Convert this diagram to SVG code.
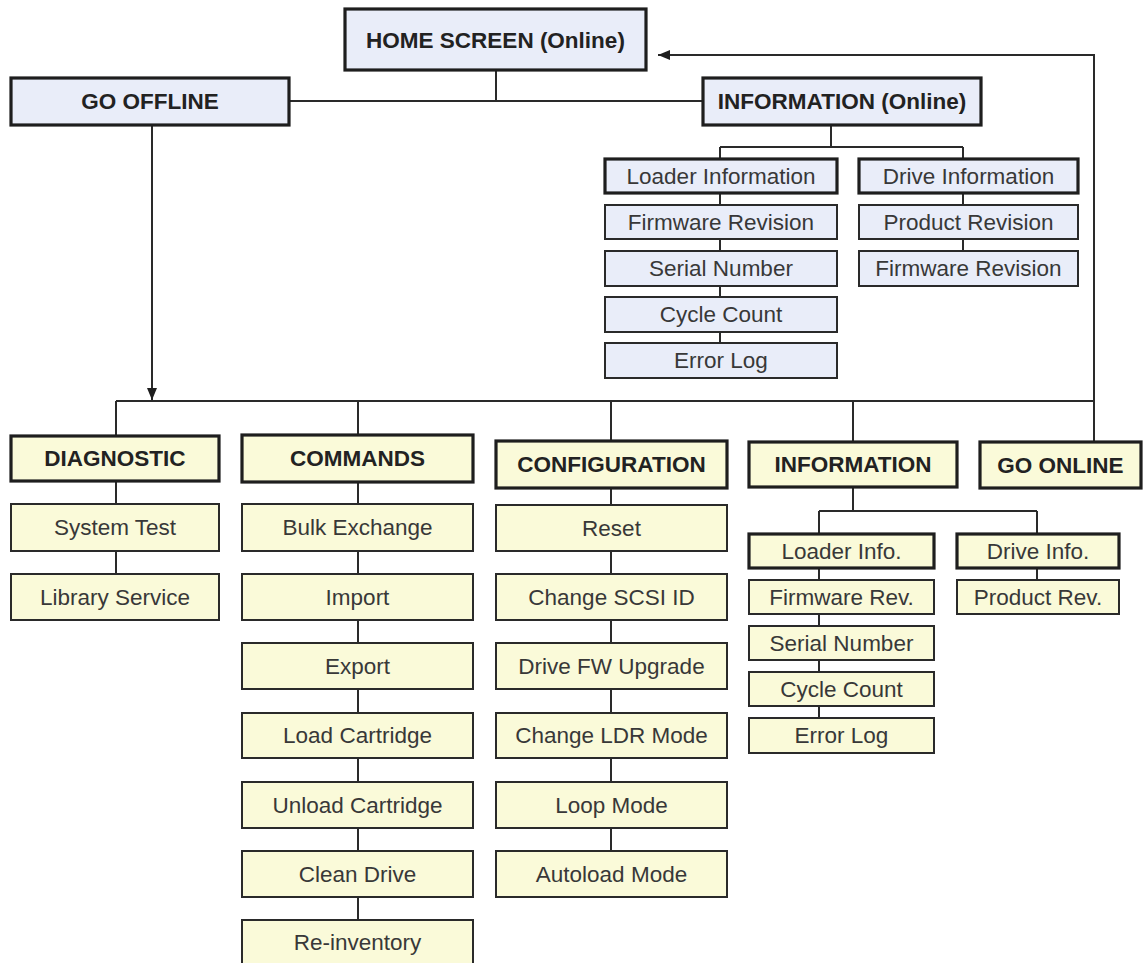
<svg xmlns="http://www.w3.org/2000/svg" width="1146" height="963" viewBox="0 0 1146 963">
<style>
  .b{fill:#e9edf9;stroke:#2a2a2a;stroke-width:2}
  .y{fill:#fafad9;stroke:#2a2a2a;stroke-width:2}
  .k{stroke-width:3.2;stroke:#1e1e1e}
  .t{font-family:"Liberation Sans",Arial,sans-serif;font-size:22.5px;fill:#383838;text-anchor:middle}
  .h{font-family:"Liberation Sans",Arial,sans-serif;font-size:22.5px;font-weight:bold;fill:#222;text-anchor:middle}
  .c{fill:none;stroke:#2a2a2a;stroke-width:2}
</style>
<defs>
  <marker id="ah" viewBox="0 0 12 10" refX="12" refY="5" markerWidth="12" markerHeight="10" markerUnits="userSpaceOnUse" orient="auto">
    <path d="M0,0 L12,5 L0,10 z" fill="#1e1e1e"/>
  </marker>
</defs>
<rect width="1146" height="963" fill="#ffffff"/>
<g id="connectors">
  <path class="c" d="M496,70 V101"/>
  <path class="c" d="M289,101 H703"/>
  <path class="c" d="M831,125 V147 M720,147 H963 M720,147 V159 M963,147 V159"/>
  <path class="c" d="M720,193 V343"/>
  <path class="c" d="M963,193 V251"/>
  <path class="c" d="M1094,401 V55 H658" marker-end="url(#ah)"/>
  <path class="c" d="M152,125 V400" marker-end="url(#ah)"/>
  <path class="c" d="M116,401 H1094"/>
  <path class="c" d="M116,401 V436 M358,401 V435 M611,401 V441 M853,401 V442 M1094,401 V442"/>
  <path class="c" d="M116,481 V574"/>
  <path class="c" d="M358,482 V920"/>
  <path class="c" d="M611,488 V851"/>
  <path class="c" d="M853,487 V511 M819,511 H1037 M819,511 V534 M1037,511 V534"/>
  <path class="c" d="M819,568 V718"/>
  <path class="c" d="M1037,568 V580"/>
</g>
<g id="home"><rect class="b k" x="345" y="9" width="301" height="61"/><text class="h" x="495.5" y="47.5">HOME SCREEN (Online)</text></g>
<g id="gooffline"><rect class="b k" x="11" y="78" width="278" height="47"/><text class="h" x="150" y="109">GO OFFLINE</text></g>
<g id="infoonline"><rect class="b k" x="703" y="78" width="278" height="47"/><text class="h" x="842" y="109">INFORMATION (Online)</text></g>

<g id="loaderinformation"><rect class="b k" x="605" y="159" width="232" height="34"/><text class="t" x="721" y="184">Loader Information</text></g>
<g id="firmwarerevision1"><rect class="b" x="605" y="205" width="232" height="34"/><text class="t" x="721" y="230">Firmware Revision</text></g>
<g id="serialnumber1"><rect class="b" x="605" y="251" width="232" height="35"/><text class="t" x="721" y="276">Serial Number</text></g>
<g id="cyclecount1"><rect class="b" x="605" y="297" width="232" height="35"/><text class="t" x="721" y="322">Cycle Count</text></g>
<g id="errorlog1"><rect class="b" x="605" y="343" width="232" height="35"/><text class="t" x="721" y="368">Error Log</text></g>

<g id="driveinformation"><rect class="b k" x="859" y="159" width="219" height="34"/><text class="t" x="968.5" y="184">Drive Information</text></g>
<g id="productrevision"><rect class="b" x="859" y="205" width="219" height="34"/><text class="t" x="968.5" y="230">Product Revision</text></g>
<g id="firmwarerevision2"><rect class="b" x="859" y="251" width="219" height="35"/><text class="t" x="968.5" y="276">Firmware Revision</text></g>

<g id="diagnostic"><rect class="y k" x="11" y="436" width="208" height="45"/><text class="h" x="115" y="466">DIAGNOSTIC</text></g>
<g id="systemtest"><rect class="y" x="11" y="504" width="208" height="47"/><text class="t" x="115" y="535">System Test</text></g>
<g id="libraryservice"><rect class="y" x="11" y="574" width="208" height="46"/><text class="t" x="115" y="605">Library Service</text></g>

<g id="commands"><rect class="y k" x="242" y="435" width="231" height="47"/><text class="h" x="357.5" y="466">COMMANDS</text></g>
<g id="bulkexchange"><rect class="y" x="242" y="504" width="231" height="47"/><text class="t" x="357.5" y="535">Bulk Exchange</text></g>
<g id="import"><rect class="y" x="242" y="574" width="231" height="46"/><text class="t" x="357.5" y="605">Import</text></g>
<g id="export"><rect class="y" x="242" y="643" width="231" height="46"/><text class="t" x="357.5" y="674">Export</text></g>
<g id="loadcartridge"><rect class="y" x="242" y="713" width="231" height="45"/><text class="t" x="357.5" y="743">Load Cartridge</text></g>
<g id="unloadcartridge"><rect class="y" x="242" y="782" width="231" height="46"/><text class="t" x="357.5" y="813">Unload Cartridge</text></g>
<g id="cleandrive"><rect class="y" x="242" y="851" width="231" height="46"/><text class="t" x="357.5" y="882">Clean Drive</text></g>
<g id="reinventory"><rect class="y" x="242" y="920" width="231" height="48"/><text class="t" x="357.5" y="950">Re-inventory</text></g>

<g id="configuration"><rect class="y k" x="496" y="441" width="231" height="47"/><text class="h" x="611.5" y="472">CONFIGURATION</text></g>
<g id="reset"><rect class="y" x="496" y="505" width="231" height="46"/><text class="t" x="611.5" y="536">Reset</text></g>
<g id="changescsiid"><rect class="y" x="496" y="574" width="231" height="46"/><text class="t" x="611.5" y="605">Change SCSI ID</text></g>
<g id="drivefwupgrade"><rect class="y" x="496" y="643" width="231" height="46"/><text class="t" x="611.5" y="674">Drive FW Upgrade</text></g>
<g id="changeldrmode"><rect class="y" x="496" y="713" width="231" height="45"/><text class="t" x="611.5" y="743">Change LDR Mode</text></g>
<g id="loopmode"><rect class="y" x="496" y="782" width="231" height="46"/><text class="t" x="611.5" y="813">Loop Mode</text></g>
<g id="autoloadmode"><rect class="y" x="496" y="851" width="231" height="46"/><text class="t" x="611.5" y="882">Autoload Mode</text></g>

<g id="information"><rect class="y k" x="749" y="442" width="208" height="45"/><text class="h" x="853" y="472">INFORMATION</text></g>
<g id="goonline"><rect class="y k" x="980" y="442" width="161" height="46"/><text class="h" x="1060.5" y="473">GO ONLINE</text></g>

<g id="loaderinfo"><rect class="y k" x="749" y="534" width="185" height="34"/><text class="t" x="841.5" y="559">Loader Info.</text></g>
<g id="firmwarerev"><rect class="y" x="749" y="580" width="185" height="34"/><text class="t" x="841.5" y="605">Firmware Rev.</text></g>
<g id="serialnumber2"><rect class="y" x="749" y="626" width="185" height="34"/><text class="t" x="841.5" y="651">Serial Number</text></g>
<g id="cyclecount2"><rect class="y" x="749" y="672" width="185" height="34"/><text class="t" x="841.5" y="697">Cycle Count</text></g>
<g id="errorlog2"><rect class="y" x="749" y="718" width="185" height="35"/><text class="t" x="841.5" y="743">Error Log</text></g>

<g id="driveinfo"><rect class="y k" x="957" y="534" width="162" height="34"/><text class="t" x="1038" y="559">Drive Info.</text></g>
<g id="productrev"><rect class="y" x="957" y="580" width="162" height="34"/><text class="t" x="1038" y="605">Product Rev.</text></g>
</svg>
